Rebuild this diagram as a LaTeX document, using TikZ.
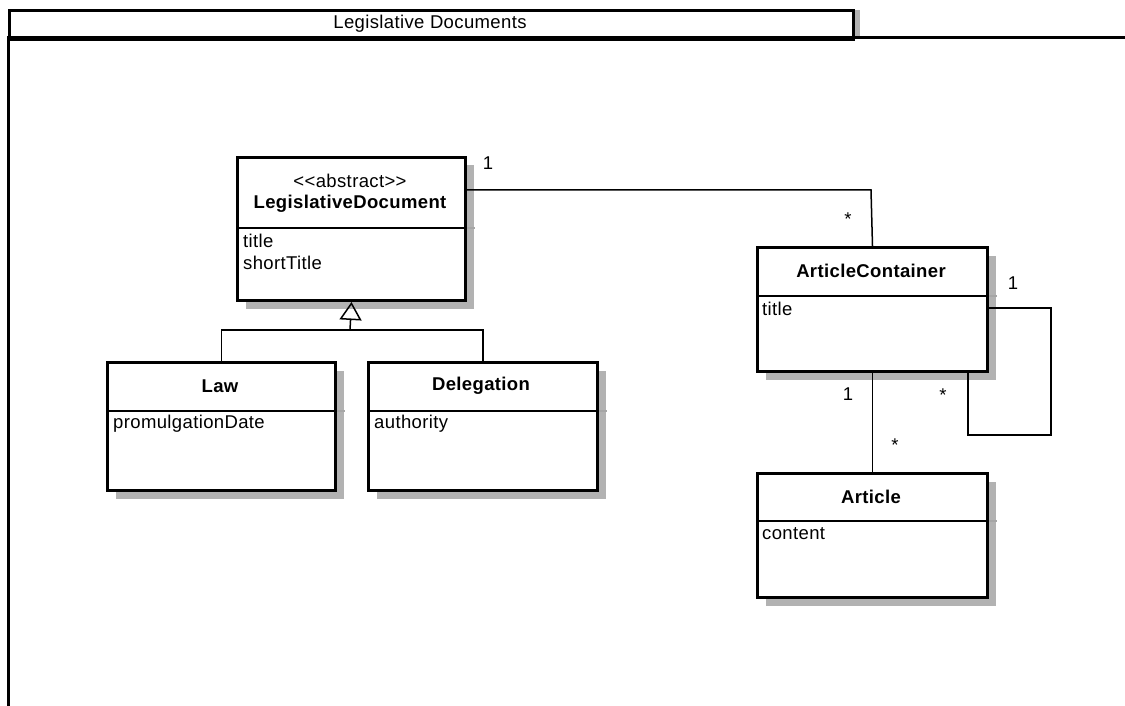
\documentclass[tikz,border=0pt]{standalone}
\usepackage{fontspec}
\setmainfont{Liberation Sans}[LetterSpace=2]
\usetikzlibrary{shadows,arrows.meta}
\tikzset{
  cls/.style={draw, line width=3pt, fill=white, anchor=north west, inner sep=0pt,
    drop shadow={shadow xshift=8pt, shadow yshift=-8pt, fill=black!30, opacity=1}},
  conn/.style={line width=1.5pt},
  divl/.style={line width=2.5pt},
  divx/.style={line width=1.5pt, black!35},
  txt/.style={inner sep=0pt, font=\fontsize{18.5}{22}\selectfont},
  hdr/.style={txt, font=\fontsize{18.5}{22}\selectfont\bfseries},
  att/.style={txt, anchor=west},
  mult/.style={txt},
  frame/.style={line width=3pt},
}
\begin{document}
\begin{tikzpicture}[x=1pt,y=-1pt]
\useasboundingbox (0,0) rectangle (1125,706);
% package frame
\node[draw, line width=3pt, fill=white, anchor=north west, inner sep=0pt,
  minimum width=844pt, minimum height=29pt,
  drop shadow={shadow xshift=6pt, shadow yshift=0pt, fill=black!30, opacity=1}]
  (tab) at (8,9) {};
\node[txt] (tabt) at (430,24) {Legislative Documents};
\coordinate (ftl) at (8,38);
\coordinate (ftr) at (1127,38);
\coordinate (fbl) at (8,708);
\draw[frame] (ftr) -- (ftl) -- (fbl);

% classes
\node[cls, minimum width=228pt, minimum height=143pt] (ld) at (236,156) {};
\node[cls, minimum width=228pt, minimum height=128pt] (law) at (106,361) {};
\node[cls, minimum width=229pt, minimum height=128pt] (del) at (367,361) {};
\node[cls, minimum width=230pt, minimum height=124pt] (ac) at (756,246) {};
\node[cls, minimum width=230pt, minimum height=124pt] (art) at (756,472) {};

% dividers
\draw[divl] (ld.west |- 0,228) -- (ld.east |- 0,228);
\draw[divx] (ld.east |- 0,228) -- ++(8,0);
\draw[divl] (law.west |- 0,411) -- (law.east |- 0,411);
\draw[divx] (law.east |- 0,411) -- ++(8,0);
\draw[divl] (del.west |- 0,411) -- (del.east |- 0,411);
\draw[divx] (del.east |- 0,411) -- ++(8,0);
\draw[divl] (ac.west |- 0,296) -- (ac.east |- 0,296);
\draw[divx] (ac.east |- 0,296) -- ++(8,0);
\draw[divl] (art.west |- 0,521) -- (art.east |- 0,521);
\draw[divx] (art.east |- 0,521) -- ++(8,0);

% texts
\node[txt] (ldst) at (350,181) {{<}{<}abstract{>}{>}};
\node[hdr] (ldn) at (350,204) {LegislativeDocument};
\node[att] (lda1) at (243,241) {title};
\node[att] (lda2) at (243,263) {shortTitle};
\node[hdr] (lawn) at (220,386) {Law};
\node[att] (lawa) at (113,424) {promulgationDate};
\node[hdr] (deln) at (481,386) {Delegation};
\node[att] (dela) at (374,424) {authority};
\node[hdr] (acn) at (871,271) {ArticleContainer};
\node[att] (aca) at (762,309) {title};
\node[hdr] (artn) at (871,497) {Article};
\node[att] (arta) at (762,534) {content};

% generalization
\coordinate (g) at (350,330);
\draw[conn] (law.north) |- (g) -| (del.north);
\draw[conn, -{Triangle[open, length=18pt, width=22pt, line width=1.5pt]}] (g) -- (ld.south);

% association LegislativeDocument - ArticleContainer
\coordinate (a1) at (871,190);
\draw[conn] (ld.east |- a1) -- (a1) -- (ac.north);
\node[mult] (m1) at (488,163) {1};
\node[mult] (m2) at (848,219) {*};

% self association
\coordinate (l1) at (1051,308);
\coordinate (l2) at (1051,435);
\coordinate (l3) at (968,435);
\draw[conn] (ac.east |- l1) -- (l1) -- (l2) -- (l3) -- (l3 |- ac.south);
\node[mult] (m3) at (1013,283) {1};
\node[mult] (m4) at (943,395) {*};

% ArticleContainer - Article
\draw[conn] (ac.south) -- (art.north);
\node[mult] (m5) at (848,394) {1};
\node[mult] (m6) at (895,445) {*};
\end{tikzpicture}
\end{document}
